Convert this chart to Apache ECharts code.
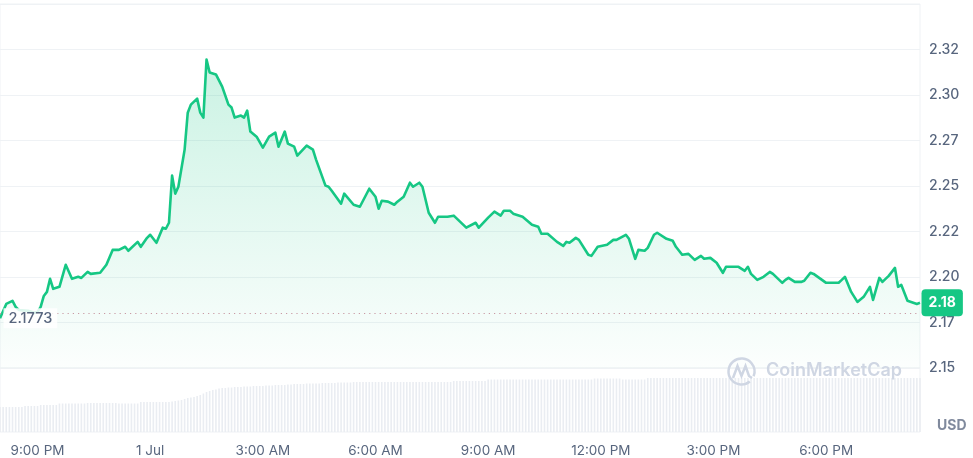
<!DOCTYPE html>
<html><head><meta charset="utf-8">
<script src="https://cdn.jsdelivr.net/npm/echarts@6/dist/echarts.min.js"></script>
<style>html,body{margin:0;padding:0;background:#fff;}#c{width:973px;height:458px;}</style>
</head><body><div id="c"></div>
<script>
// Price (USD), 30 Jun 20:00 -> 1 Jul 20:30
const priceTimes = [
'20:00','20:10','20:20','20:25','20:30','20:45','20:55','21:00','21:05','21:10','21:15','21:20','21:25','21:35','21:45','21:55',
'22:05','22:10','22:20','22:25','22:40','22:50','23:00','23:10','23:20','23:25','23:40','23:45','23:55',
'00:00','00:10','00:20','00:25','00:30','00:35','00:40','00:45','00:55','01:00','01:05','01:15','01:20','01:25','01:30','01:35','01:45','01:55',
'02:05','02:10','02:15','02:25','02:30','02:35','02:40','02:50','03:00','03:10','03:20','03:25','03:35','03:40','03:50','03:55',
'04:10','04:20','04:25','04:40','04:45','04:50','05:05','05:10','05:25','05:35','05:50','06:00','06:05','06:10','06:20','06:30','06:35','06:45','06:55',
'07:00','07:10','07:15','07:25','07:35','07:40','07:55','08:05','08:15','08:25','08:40','08:45','09:00','09:10','09:20','09:25','09:35','09:40','09:55',
'10:10','10:20','10:25','10:35','10:50','11:00','11:05','11:10','11:20','11:25','11:40','11:45','11:55','12:10','12:20','12:25','12:40','12:45','12:55',
'13:00','13:10','13:15','13:25','13:30','13:45','13:55','14:00','14:10','14:20','14:30','14:40','14:45','14:55','15:05','15:15','15:20','15:40','15:50','15:55',
'16:00','16:10','16:20','16:30','16:35','16:50','16:55','17:00','17:10','17:20','17:25','17:35','17:40','18:00','18:05','18:20','18:25','18:30','18:40','18:50',
'19:00','19:10','19:15','19:25','19:30','19:40','19:50','19:55','20:00','20:10','20:25','20:30'
];
const priceValues = [
2.1773,2.1852,2.1869,2.1836,2.1819,2.1814,2.1803,2.1808,2.1836,2.1896,2.1918,2.1990,2.1935,2.1946,2.2067,2.1990,
2.2001,2.1995,2.2028,2.2017,2.2023,2.2067,2.2149,2.2149,2.2166,2.2144,2.2193,2.2166,2.2215,
2.2232,2.2188,2.2271,2.2265,2.2298,2.2557,2.2458,2.2496,2.2700,2.2903,2.2947,2.2980,2.2903,2.2876,2.3195,2.3124,2.3113,2.3046,
2.2947,2.2931,2.2876,2.2887,2.2876,2.2914,2.2799,2.2771,2.2711,2.2771,2.2793,2.2716,2.2799,2.2733,2.2716,2.2667,
2.2722,2.2700,2.2645,2.2502,2.2496,2.2474,2.2403,2.2458,2.2397,2.2386,2.2485,2.2441,2.2375,2.2419,2.2414,2.2397,2.2414,2.2441,2.2518,
2.2496,2.2518,2.2496,2.2353,2.2298,2.2331,2.2331,2.2337,2.2304,2.2271,2.2298,2.2271,2.2326,2.2359,2.2337,2.2364,2.2364,2.2348,2.2331,
2.2287,2.2276,2.2238,2.2238,2.2193,2.2171,2.2193,2.2188,2.2215,2.2204,2.2122,2.2116,2.2166,2.2177,2.2204,2.2204,2.2232,2.2210,2.2100,
2.2149,2.2144,2.2160,2.2232,2.2243,2.2210,2.2199,2.2166,2.2122,2.2127,2.2094,2.2116,2.2100,2.2105,2.2078,2.2023,2.2056,2.2056,2.2034,2.2056,
2.2017,2.1984,2.2001,2.2028,2.2017,2.1968,2.1984,2.1995,2.1973,2.1973,2.1979,2.2023,2.2017,2.1968,2.1968,2.1968,2.1984,2.2001,2.1918,2.1863,
2.1891,2.1946,2.1874,2.1995,2.1973,2.2006,2.2050,2.1946,2.1957,2.1869,2.1852,2.1858
];
const openPrice = 2.1773;
// 24h volume (x100M USD), one bar every 5 minutes from 30 Jun 20:00
const volumeStartHour = -4;
const volumeStepMinutes = 5;
const volumeValues = [
25,25,25,25,25,25,25,25,26,26,
26,26,26,27,27,27,27,27,27,28.5,
28.5,28.5,28.5,28.5,28.5,28.5,28.5,28.5,29,29,
29,29,29,29,29,29,29,29,28.5,28.5,
28.5,28.5,28.5,28.5,28.5,30,30,30,30,30,
30,30,30,30,30,30.5,31,31.5,32,33,
34,34.5,35,36,37,38.5,40,41,42,42.5,
43.5,44,44,44.5,44.5,45,45,45,45.5,45.5,
45.5,46,46,46,46,46.5,46.5,46.5,47,47,
47,47,47.5,47.5,48,48,48,48,48.5,48.5,
48.5,48.5,48.5,49,49,49,49,49,49.5,49.5,
49.5,49.5,49.5,50,50,50,50,50,50,50,
50,50,50,50,50,50,50,50,50,50,
50,50,50,50,50,50,50,50,50,50,
50,50,50,50,50,51,51,51,51,51,
51,51,51,51,51,51,52.5,52.5,52.5,52.5,
52.5,52.5,52.5,52.5,52.5,52.5,52.5,52.5,52.5,52.5,
52.5,52.5,52.5,52.5,52.5,52.5,52.5,52.5,52.5,52.5,
52.5,52.5,52.5,52.5,52.5,52.5,52.5,52.5,52.5,52.5,
53.5,53.5,53.5,53.5,53.5,53.5,53.5,53.5,53.5,52.5,
52.5,52.5,52.5,52.5,52.5,52.5,52.5,54,54,54,
54,54,54,54,54,54,54,54,54,54,
54,54,54,54,54,54,54,54,54,54,
54,54,54,54,54,54,54,54,54,54,
54,54,54,54,54,54,54,54,54,54,
54,54,54,54,54,54,54,54,54,54,
54,54,54,54,54,54,54,54,54,54,
54,54,54,54,54,54,54,54,54,54,
54,54,54,54,54,54,54,54,54,54,
54,54,54,54,54
];
const xTickHours = [-3,0,3,6,9,12,15,18];
const xTickLabels = ['9:00 PM','1 Jul','3:00 AM','6:00 AM','9:00 AM','12:00 PM','3:00 PM','6:00 PM'];
const yMin = 2.15, yMax = 2.35, yStep = 0.025;

// build data
const priceData = [];
let dayOffset = -24, prevH = -1;
priceTimes.forEach((t, i) => {
  const [h, m] = t.split(':').map(Number);
  const hh = h + m / 60;
  if (hh < prevH) dayOffset = 0;
  prevH = hh;
  priceData.push([hh + dayOffset, priceValues[i]]);
});
const volumeData = volumeValues.map((v, i) => [volumeStartHour + i * volumeStepMinutes / 60, v]);
const last = priceData[priceData.length - 1];
const trunc2 = v => (Math.floor(v * 100 + 1e-6) / 100).toFixed(2);

const FONT = 'Inter';
const LABEL = '#58667e';
const GRID = '#eff2f5';
const xMin = -4, xMax = 20.5;

const chart = echarts.init(document.getElementById('c'), null, {renderer: 'canvas'});
chart.setOption({
  animation: false,
  backgroundColor: '#fff',
  grid: [
    {left: 0, top: 4, width: 920, height: 364, show: true, borderColor: GRID, borderWidth: 1, outerBoundsMode: 'none', containLabel: false},
    {left: 0, top: 368, width: 920, height: 64, show: true, borderColor: GRID, borderWidth: 1, outerBoundsMode: 'none', containLabel: false}
  ],
  xAxis: [
    {type: 'value', gridIndex: 0, min: xMin, max: xMax, show: false, splitLine: {show: false}},
    {type: 'value', gridIndex: 1, min: xMin, max: xMax,
      axisLine: {show: false}, axisTick: {show: false}, splitLine: {show: false},
      axisLabel: {customValues: xTickHours, color: LABEL, fontSize: 13.5, fontFamily: FONT, margin: 12,
        formatter: v => { const i = xTickHours.findIndex(h => Math.abs(h - v) < 1e-6); return i >= 0 ? xTickLabels[i] : ''; }}}
  ],
  yAxis: [
    {type: 'value', gridIndex: 0, position: 'right', min: yMin, max: yMax, interval: yStep,
      axisLine: {show: false}, axisTick: {show: false},
      splitLine: {show: true, lineStyle: {color: GRID, width: 1}},
      axisLabel: {showMaxLabel: false, color: LABEL, fontSize: 14, fontWeight: 500, fontFamily: FONT, margin: 9,
        padding: [4, 0, 0, 0], formatter: v => trunc2(v)}},
    {type: 'value', gridIndex: 1, min: 0, max: 64, show: false, splitLine: {show: false}}
  ],
  series: [
    {type: 'bar', xAxisIndex: 1, yAxisIndex: 1, data: volumeData, barWidth: 1.6,
      itemStyle: {color: '#eaedf2'}, silent: true, z: 1},
    {type: 'line', xAxisIndex: 0, yAxisIndex: 0, data: priceData, showSymbol: false, clip: false,
      lineStyle: {color: '#16c784', width: 2.6, join: 'round'}, itemStyle: {color: '#16c784'},
      areaStyle: {color: new echarts.graphic.LinearGradient(0, 0, 0, 1, [
        {offset: 0, color: 'rgba(22,199,132,0.32)'},
        {offset: 1, color: 'rgba(22,199,132,0.02)'}])},
      markLine: {symbol: 'none', silent: true, label: {show: false},
        lineStyle: {color: '#c99aa4', type: [1.2, 4], width: 1.2},
        data: [{yAxis: openPrice}]},
      markPoint: {silent: true, symbol: 'circle', symbolSize: 1, itemStyle: {color: 'rgba(0,0,0,0)'},
        data: [
          {coord: [xMin, openPrice], label: {show: true, position: 'right', distance: 3, formatter: String(openPrice),
            color: LABEL, fontSize: 14.5, fontWeight: 500, fontFamily: FONT, backgroundColor: 'rgba(255,255,255,0.85)', padding: [4, 5, 1, 5]}},
          {coord: last, label: {show: true, position: 'right', distance: 1, formatter: trunc2(last[1]),
            color: '#fff', fontSize: 14, fontWeight: 'bold', fontFamily: FONT, backgroundColor: '#16c784',
            padding: [7, 7, 6, 7], borderRadius: 4}}
        ]},
      z: 3}
  ],
  graphic: [
    {type: 'arc', shape: {cx: 741.5, cy: 371.5, r: 13, startAngle: Math.PI * 0.28, endAngle: Math.PI * 2.12}, style: {stroke: '#cfd6e3', lineWidth: 2.5, fill: null}, z: 10},
    {type: 'polyline', shape: {points: [[733, 378], [737.5, 366], [741.5, 376], [745.5, 366], [749, 376], [752, 378]]}, style: {stroke: '#cfd6e3', lineWidth: 2.5, fill: null}, z: 10},
    {type: 'text', left: 766, top: 362, style: {text: 'CoinMarketCap', fill: '#cfd6e3', fontSize: 18, fontWeight: 600, fontFamily: FONT}, z: 10},
    {type: 'text', left: 937, top: 419, style: {text: 'USD', fill: '#808a9d', fontSize: 14, fontWeight: 'bold', fontFamily: FONT}, z: 10}
  ]
});
</script></body></html>
